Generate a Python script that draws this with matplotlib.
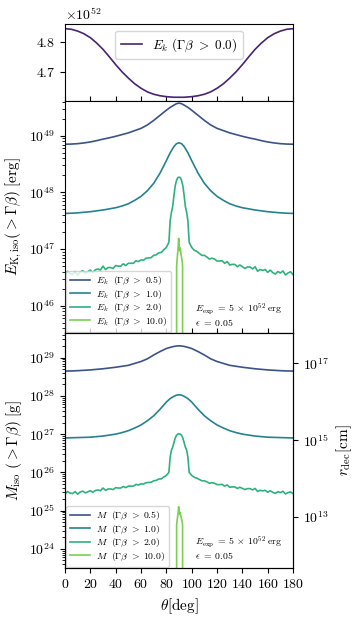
import numpy as np
import matplotlib
matplotlib.use('Agg')
import matplotlib.pyplot as plt
from matplotlib.ticker import NullLocator

plt.rcParams['font.family'] = 'serif'
plt.rcParams['font.serif'] = ['cmr10', 'DejaVu Serif']
plt.rcParams['mathtext.fontset'] = 'cm'
plt.rcParams['axes.formatter.use_mathtext'] = True

# smooth curves, theta grid [deg]
theta_s = [0, 5, 10, 15, 20, 25, 30, 35, 40, 45, 50, 55, 60, 65, 70, 75, 80, 83, 86, 88, 90,
           92, 94, 97, 100, 105, 110, 115, 120, 125, 130, 135, 140, 145, 150, 155, 160, 165, 170, 175, 180]

# values read from 0 to 90 deg; the curves are mirror symmetric about 90 deg
E_gb0_half = [4.845, 4.843, 4.837, 4.828, 4.815, 4.797, 4.776, 4.751, 4.725, 4.701, 4.680,
              4.661, 4.646, 4.634, 4.626, 4.621, 4.618, 4.617, 4.616, 4.616, 4.616]  # x1e52 erg
logE_gb05_half = [48.85, 48.853, 48.86, 48.873, 48.89, 48.913, 48.94, 48.963, 48.99, 49.02, 49.05,
                  49.09, 49.13, 49.19, 49.27, 49.36, 49.45, 49.50, 49.54, 49.565, 49.575]
logE_gb1_half = [47.63, 47.633, 47.64, 47.65, 47.66, 47.675, 47.69, 47.71, 47.73, 47.76, 47.80,
                 47.86, 47.93, 48.03, 48.16, 48.34, 48.56, 48.70, 48.81, 48.86, 48.875]
logM_gb05_half = [28.65, 28.653, 28.66, 28.67, 28.68, 28.695, 28.71, 28.73, 28.75, 28.775, 28.80,
                  28.85, 28.90, 28.97, 29.07, 29.16, 29.24, 29.27, 29.295, 29.305, 29.31]
logM_gb1_half = [26.90, 26.905, 26.91, 26.915, 26.92, 26.935, 26.95, 26.975, 27.00, 27.04, 27.09,
                 27.16, 27.24, 27.35, 27.48, 27.65, 27.84, 27.93, 27.99, 28.02, 28.03]

E_gb0 = [v * 1e52 for v in E_gb0_half + E_gb0_half[-2::-1]]
logE_gb05 = logE_gb05_half + logE_gb05_half[-2::-1]
logE_gb1 = logE_gb1_half + logE_gb1_half[-2::-1]
logM_gb05 = logM_gb05_half + logM_gb05_half[-2::-1]
logM_gb1 = logM_gb1_half + logM_gb1_half[-2::-1]

# noisy Gamma beta > 2 curves
theta_n = list(range(0, 82, 2)) + list(range(82, 99)) + list(range(100, 181, 2))
logE_gb2 = [46.54, 46.61, 46.57, 46.555, 46.605, 46.54, 46.595, 46.62, 46.575, 46.60,
            46.63, 46.59, 46.635, 46.65, 46.63, 46.70, 46.64, 46.675, 46.675, 46.66,
            46.71, 46.70, 46.70, 46.74, 46.71, 46.75, 46.75, 46.75, 46.795, 46.78,
            46.81, 46.805, 46.84, 46.845, 46.85, 46.89, 46.90, 46.935, 46.94, 46.99, 47.03,
            47.12, 47.50, 47.65, 47.75, 47.95, 48.12, 48.21, 48.26, 48.27, 48.26, 48.21, 48.12,
            47.95, 47.75, 47.65, 47.50, 47.12,
            47.03, 46.98, 46.96, 46.925, 46.89, 46.89, 46.86, 46.825, 46.84, 46.825,
            46.79, 46.79, 46.795, 46.75, 46.78, 46.72, 46.73, 46.73, 46.69, 46.72,
            46.69, 46.66, 46.685, 46.685, 46.65, 46.69, 46.61, 46.64, 46.625, 46.64,
            46.59, 46.63, 46.585, 46.56, 46.605, 46.58, 46.615, 46.545, 46.58, 46.60, 46.55]
logM_gb2 = [25.43, 25.50, 25.46, 25.445, 25.495, 25.43, 25.485, 25.51, 25.465, 25.49,
            25.52, 25.48, 25.525, 25.54, 25.52, 25.59, 25.53, 25.565, 25.565, 25.55,
            25.60, 25.59, 25.59, 25.63, 25.60, 25.64, 25.64, 25.64, 25.685, 25.67,
            25.70, 25.695, 25.73, 25.735, 25.74, 25.78, 25.79, 25.825, 25.83, 25.88, 25.92,
            26.00, 26.40, 26.58, 26.66, 26.78, 26.90, 26.97, 27.00, 27.01, 27.00, 26.97, 26.90,
            26.78, 26.66, 26.58, 26.40, 26.00,
            25.92, 25.87, 25.85, 25.815, 25.78, 25.78, 25.75, 25.715, 25.73, 25.715,
            25.68, 25.68, 25.685, 25.64, 25.67, 25.61, 25.62, 25.62, 25.58, 25.61,
            25.58, 25.55, 25.575, 25.575, 25.54, 25.58, 25.50, 25.53, 25.515, 25.53,
            25.48, 25.52, 25.475, 25.45, 25.495, 25.47, 25.505, 25.435, 25.47, 25.49, 25.44]

# Gamma beta > 10, only a narrow core around 90 deg (outside: no material)
theta_10 = [88.0, 88.1, 88.6, 89.2, 89.7, 90.1, 90.5, 91.0, 91.5, 92.0, 92.5, 92.8, 92.9]
logE_gb10 = [30.0, 46.70, 46.85, 47.00, 47.19, 47.05, 46.97, 47.02, 46.92, 46.85, 46.78, 46.70, 30.0]
logM_gb10 = [10.0, 24.62, 24.78, 24.92, 25.10, 24.98, 24.90, 24.95, 24.85, 24.78, 24.70, 24.62, 10.0]

c0 = '#482475'
c05 = '#3b528b'
c1 = '#25838e'
c2 = '#2db27d'
c10 = '#7ad151'

fig = plt.figure(figsize=(3.57, 6.2), dpi=100)
gs = fig.add_gridspec(3, 1, height_ratios=[77, 232, 235], hspace=0,
                      left=0.182, right=0.821, top=0.961, bottom=0.084)
ax0 = fig.add_subplot(gs[0])
ax1 = fig.add_subplot(gs[1], sharex=ax0)
ax2 = fig.add_subplot(gs[2], sharex=ax0)

lw = 1.2
leg_kw = dict(loc='lower left', fontsize=7, borderaxespad=0.1, labelspacing=0.12,
              handlelength=2.0, handletextpad=0.6, borderpad=0.45)

ax0.plot(theta_s, E_gb0, color=c0, lw=lw, label=r'$E_k\ (\Gamma\beta\ >\ 0.0)$')
ax0.set_ylim(4.603e52, 4.86e52)
ax0.set_yticks([4.7e52, 4.8e52])
ax0.legend(loc='upper center', fontsize=9.5, frameon=True, handlelength=1.6)

ax1.semilogy(theta_s, 10**np.array(logE_gb05), color=c05, lw=lw, label=r'$E_k\ \ (\Gamma\beta\ >\ 0.5)$')
ax1.semilogy(theta_s, 10**np.array(logE_gb1), color=c1, lw=lw, label=r'$E_k\ \ (\Gamma\beta\ >\ 1.0)$')
ax1.semilogy(theta_n, 10**np.array(logE_gb2), color=c2, lw=lw, label=r'$E_k\ \ (\Gamma\beta\ >\ 2.0)$')
ax1.semilogy(theta_10, 10**np.array(logE_gb10), color=c10, lw=lw, label=r'$E_k\ \ (\Gamma\beta\ >\ 10.0)$')
ax1.set_ylim(10**45.52, 10**49.61)
ax1.set_ylabel(r'$E_{\rm K,iso} (>\Gamma\beta)\ [{\rm erg}]$', fontsize=11)
ax1.legend(**leg_kw)

ax2.semilogy(theta_s, 10**np.array(logM_gb05), color=c05, lw=lw, label=r'$M\ \ (\Gamma\beta\ >\ 0.5)$')
ax2.semilogy(theta_s, 10**np.array(logM_gb1), color=c1, lw=lw, label=r'$M\ \ (\Gamma\beta\ >\ 1.0)$')
ax2.semilogy(theta_n, 10**np.array(logM_gb2), color=c2, lw=lw, label=r'$M\ \ (\Gamma\beta\ >\ 2.0)$')
ax2.semilogy(theta_10, 10**np.array(logM_gb10), color=c10, lw=lw, label=r'$M\ \ (\Gamma\beta\ >\ 10.0)$')
ax2.set_ylim(10**23.5, 10**29.645)
ax2.set_ylabel(r'$M_{\rm iso}\ (>\Gamma\beta)\ [{\rm g}]$', fontsize=11)
ax2.legend(**leg_kw)
ax2.set_xlabel(r'$\theta [{\rm deg}]$', fontsize=11)
ax2.set_xlim(0, 180)
ax2.set_xticks(range(0, 181, 20))

note = r'$E_{\rm exp}\;=\;5\,\times\,10^{52}\;{\rm erg}$' + '\n' + r'$\epsilon\;=\;0.05$'
for ax, y in ((ax1, 0.022), (ax2, 0.03)):
    ax.text(0.57, y, note, transform=ax.transAxes, fontsize=7, ha='left', va='bottom',
            linespacing=0.95)

ax3 = ax2.twinx()
ax3.set_yscale('log')
ax3.set_ylim(10**11.66, 10**17.79)
ax3.set_yticks([1e13, 1e15, 1e17])
ax3.yaxis.set_minor_locator(NullLocator())
ax3.set_ylabel(r'$r_{\rm dec} [{\rm cm}]$', fontsize=11)

for ax in (ax0, ax1):
    ax.tick_params(axis='x', direction='in', labelbottom=False)
for ax in (ax0, ax1, ax2, ax3):
    ax.tick_params(labelsize=10)

fig.savefig('out.png', dpi=100)
